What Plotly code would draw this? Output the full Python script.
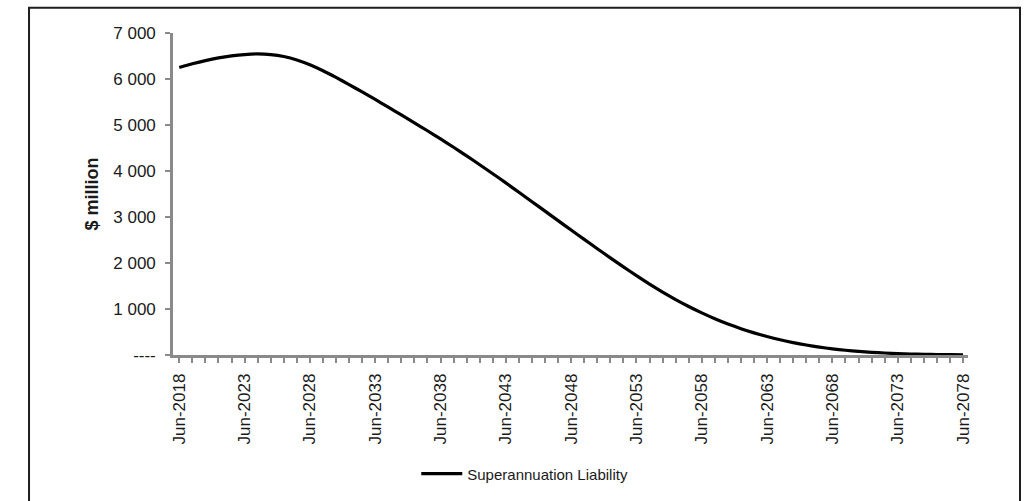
import plotly.graph_objects as go

# Projected superannuation liability, $ million, at June each year
years = list(range(2018, 2079))
liability = [
    6250, 6330, 6400, 6458, 6502, 6532, 6545, 6530, 6488, 6415,   # 2018-2027
    6310, 6180, 6034, 5879, 5719, 5555, 5388, 5219, 5048, 4875,   # 2028-2037
    4698, 4516, 4329, 4137, 3941, 3741, 3538, 3333, 3127, 2921,   # 2038-2047
    2716, 2513, 2310, 2112, 1915, 1725, 1542, 1368, 1205, 1054,   # 2048-2057
    915, 789, 675, 572, 481, 401, 331, 270, 217, 172,             # 2058-2067
    134, 103, 78, 58, 43, 31, 22, 15, 10, 6,                      # 2068-2077
    3,                                                            # 2078
]

label_years = list(range(2018, 2079, 5))
x_labels = [f"Jun-{y}" for y in label_years]
y_ticks = [0, 1000, 2000, 3000, 4000, 5000, 6000, 7000]
y_labels = ["----", "1 000", "2 000", "3 000", "4 000", "5 000", "6 000", "7 000"]
series_name = "Superannuation Liability"
y_title = "$ million"

FONT = "Liberation Sans, Arial, sans-serif"
AXIS_GREY = "#8a8a8a"
TEXT = "#1a1a1a"

fig = go.Figure()
fig.add_trace(go.Scatter(
    x=years, y=liability, mode="lines", name=series_name,
    line=dict(color="#000000", width=3.2, shape="spline", smoothing=0.5),
    showlegend=True,
))

fig.update_layout(
    width=1029, height=501,
    margin=dict(l=173, r=61, t=33, b=145),
    paper_bgcolor="white", plot_bgcolor="white",
    font=dict(family=FONT, color=TEXT, size=17),
    showlegend=True,
    legend=dict(
        orientation="h", x=0.306, xanchor="left", y=-0.365, yanchor="middle",
        font=dict(family=FONT, size=15, color=TEXT),
        itemwidth=41, bgcolor="rgba(0,0,0,0)",
    ),
    xaxis=dict(
        range=[2017.52, 2078.38],
        tickmode="array", tickvals=label_years, ticktext=x_labels,
        tickangle=-90, tickfont=dict(family=FONT, size=17, color=TEXT),
        ticks="outside", ticklen=5, tickwidth=1.5, tickcolor=AXIS_GREY,
        ticklabelstandoff=4,
        minor=dict(dtick=1, tick0=2018, ticks="outside", ticklen=5,
                   tickwidth=1.5, tickcolor=AXIS_GREY, showgrid=False),
        showline=True, linecolor=AXIS_GREY, linewidth=2.6,
        showgrid=False, zeroline=False,
    ),
    yaxis=dict(
        range=[0, 7000],
        tickmode="array", tickvals=y_ticks, ticktext=y_labels,
        tickfont=dict(family=FONT, size=17, color=TEXT),
        ticks="outside", ticklen=5, tickwidth=1.5, tickcolor=AXIS_GREY,
        ticklabelstandoff=6,
        showline=True, linecolor=AXIS_GREY, linewidth=2.6,
        showgrid=False, zeroline=False,
        title=dict(text=f"<b>{y_title}</b>", font=dict(family=FONT, size=18, color=TEXT),
                   standoff=10),
    ),
    shapes=[
        # frame around the chart object
        dict(type="rect", xref="paper", yref="paper",
             x0=-0.1811, x1=1.0654, y0=-0.50, y1=1.0784,
             line=dict(color="#1e1e1e", width=2), fillcolor="rgba(0,0,0,0)",
             layer="below"),
    ],
)

fig.write_html("out.html")
